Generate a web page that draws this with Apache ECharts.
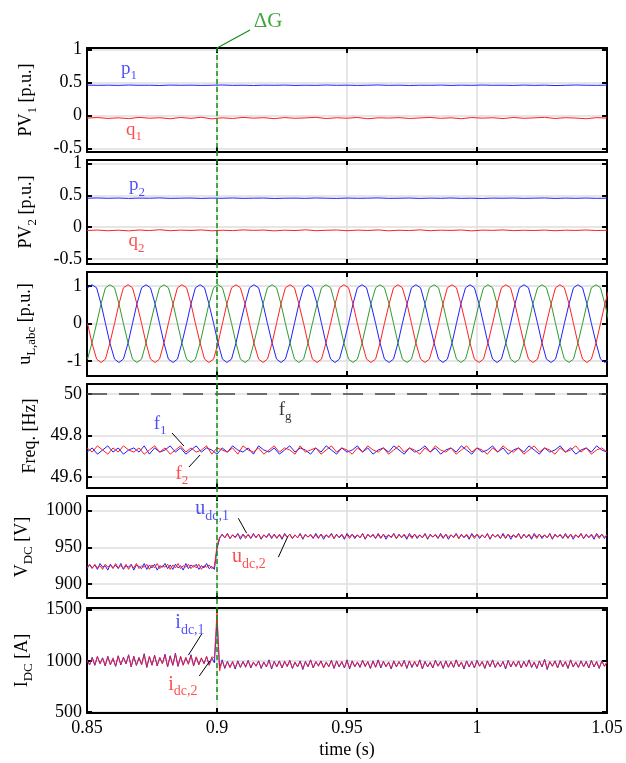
<!DOCTYPE html>
<html><head><meta charset="utf-8">
<script src="https://cdn.jsdelivr.net/npm/echarts@6/dist/echarts.min.js"></script>
<style>html,body{margin:0;padding:0;background:#fff}#c{width:626px;height:763px}</style>
</head><body><div id="c"></div>
<script>
// ---------------- DATA ----------------
// time bases (s)
const tPQ = [0.850,0.854,0.858,0.862,0.866,0.870,0.874,0.878,0.882,0.886,
0.890,0.894,0.898,0.902,0.906,0.910,0.914,0.918,0.922,0.926,
0.930,0.934,0.938,0.942,0.946,0.950,0.954,0.958,0.962,0.966,
0.970,0.974,0.978,0.982,0.986,0.990,0.994,0.998,1.002,1.006,
1.010,1.014,1.018,1.022,1.026,1.030,1.034,1.038,1.042,1.046,
1.050];
const tF = [0.850,0.852,0.854,0.856,0.858,0.860,0.862,0.864,0.866,0.868,
0.870,0.872,0.874,0.876,0.878,0.880,0.882,0.884,0.886,0.888,
0.890,0.892,0.894,0.896,0.898,0.900,0.902,0.904,0.906,0.908,
0.910,0.912,0.914,0.916,0.918,0.920,0.922,0.924,0.926,0.928,
0.930,0.932,0.934,0.936,0.938,0.940,0.942,0.944,0.946,0.948,
0.950,0.952,0.954,0.956,0.958,0.960,0.962,0.964,0.966,0.968,
0.970,0.972,0.974,0.976,0.978,0.980,0.982,0.984,0.986,0.988,
0.990,0.992,0.994,0.996,0.998,1.000,1.002,1.004,1.006,1.008,
1.010,1.012,1.014,1.016,1.018,1.020,1.022,1.024,1.026,1.028,
1.030,1.032,1.034,1.036,1.038,1.040,1.042,1.044,1.046,1.048,
1.050];
const tDC = [0.850,0.851,0.852,0.853,0.854,0.855,0.856,0.857,0.858,0.859,
0.860,0.861,0.862,0.863,0.864,0.865,0.866,0.867,0.868,0.869,
0.870,0.871,0.872,0.873,0.874,0.875,0.876,0.877,0.878,0.879,
0.880,0.881,0.882,0.883,0.884,0.885,0.886,0.887,0.888,0.889,
0.890,0.891,0.892,0.893,0.894,0.895,0.896,0.897,0.898,0.899,
0.900,0.901,0.902,0.903,0.904,0.905,0.906,0.907,0.908,0.909,
0.910,0.911,0.912,0.913,0.914,0.915,0.916,0.917,0.918,0.919,
0.920,0.921,0.922,0.923,0.924,0.925,0.926,0.927,0.928,0.929,
0.930,0.931,0.932,0.933,0.934,0.935,0.936,0.937,0.938,0.939,
0.940,0.941,0.942,0.943,0.944,0.945,0.946,0.947,0.948,0.949,
0.950,0.951,0.952,0.953,0.954,0.955,0.956,0.957,0.958,0.959,
0.960,0.961,0.962,0.963,0.964,0.965,0.966,0.967,0.968,0.969,
0.970,0.971,0.972,0.973,0.974,0.975,0.976,0.977,0.978,0.979,
0.980,0.981,0.982,0.983,0.984,0.985,0.986,0.987,0.988,0.989,
0.990,0.991,0.992,0.993,0.994,0.995,0.996,0.997,0.998,0.999,
1.000,1.001,1.002,1.003,1.004,1.005,1.006,1.007,1.008,1.009,
1.010,1.011,1.012,1.013,1.014,1.015,1.016,1.017,1.018,1.019,
1.020,1.021,1.022,1.023,1.024,1.025,1.026,1.027,1.028,1.029,
1.030,1.031,1.032,1.033,1.034,1.035,1.036,1.037,1.038,1.039,
1.040,1.041,1.042,1.043,1.044,1.045,1.046,1.047,1.048,1.049,
1.050];
const tU = [0.8502,0.8519,0.8537,0.8554,0.8571,0.8588,0.8606,0.8623,0.8640,0.8658,0.8675,0.8692,
0.8710,0.8727,0.8744,0.8762,0.8779,0.8796,0.8813,0.8831,0.8848,0.8865,0.8883,0.8900,
0.8917,0.8935,0.8952,0.8969,0.8987,0.9004,0.9021,0.9038,0.9056,0.9073,0.9090,0.9108,
0.9125,0.9142,0.9160,0.9177,0.9194,0.9212,0.9229,0.9246,0.9263,0.9281,0.9298,0.9315,
0.9333,0.9350,0.9367,0.9385,0.9402,0.9419,0.9437,0.9454,0.9471,0.9488,0.9506,0.9523,
0.9540,0.9558,0.9575,0.9592,0.9610,0.9627,0.9644,0.9662,0.9679,0.9696,0.9713,0.9731,
0.9748,0.9765,0.9783,0.9800,0.9817,0.9835,0.9852,0.9869,0.9886,0.9904,0.9921,0.9938,
0.9956,0.9973,0.9990,1.0008,1.0025,1.0042,1.0060,1.0077,1.0094,1.0111,1.0129,1.0146,
1.0163,1.0181,1.0198,1.0215,1.0233,1.0250,1.0267,1.0285,1.0302,1.0319,1.0336,1.0354,
1.0371,1.0388,1.0406,1.0423,1.0440,1.0458,1.0475,1.0492,1.0509];

// PV1 / PV2 powers [p.u.]
const p1 = [0.462,0.458,0.461,0.457,0.463,0.459,0.460,0.456,0.462,0.459,
0.461,0.457,0.460,0.463,0.458,0.460,0.456,0.461,0.459,0.462,
0.457,0.460,0.458,0.463,0.459,0.461,0.457,0.460,0.464,0.458,
0.461,0.456,0.460,0.459,0.462,0.457,0.461,0.458,0.463,0.459,
0.460,0.457,0.462,0.458,0.461,0.455,0.459,0.463,0.460,0.458,
0.461];
const q1 = [-0.040,-0.032,-0.045,-0.036,-0.048,-0.030,-0.042,-0.035,-0.050,-0.031,
-0.044,-0.028,-0.052,-0.036,-0.046,-0.030,-0.041,-0.034,-0.049,-0.032,
-0.043,-0.037,-0.029,-0.047,-0.035,-0.042,-0.031,-0.050,-0.036,-0.040,
-0.033,-0.046,-0.038,-0.030,-0.044,-0.036,-0.049,-0.032,-0.041,-0.035,
-0.047,-0.031,-0.043,-0.037,-0.029,-0.046,-0.034,-0.040,-0.050,-0.033,
-0.041];
const p2 = [0.455,0.459,0.454,0.458,0.452,0.457,0.455,0.460,0.453,0.456,
0.458,0.452,0.457,0.454,0.459,0.453,0.456,0.458,0.451,0.455,
0.457,0.453,0.459,0.455,0.452,0.458,0.454,0.456,0.460,0.453,
0.455,0.458,0.452,0.457,0.454,0.459,0.453,0.456,0.451,0.457,
0.455,0.458,0.453,0.456,0.459,0.452,0.457,0.454,0.458,0.453,
0.456];
const q2 = [-0.052,-0.045,-0.056,-0.047,-0.058,-0.044,-0.053,-0.040,-0.055,-0.046,
-0.051,-0.043,-0.057,-0.048,-0.054,-0.042,-0.050,-0.045,-0.058,-0.047,
-0.053,-0.041,-0.055,-0.049,-0.044,-0.056,-0.046,-0.052,-0.043,-0.057,
-0.048,-0.053,-0.042,-0.055,-0.047,-0.051,-0.044,-0.058,-0.046,-0.050,
-0.043,-0.054,-0.048,-0.052,-0.045,-0.056,-0.047,-0.051,-0.044,-0.053,
-0.049];

// load voltages u_L,abc [p.u.] (flattened-top waveforms)
const uA = [0.95,1.03,0.95,0.52,0,-0.52,-0.95,-1.04,-0.95,-0.52,0,0.52,
0.95,1.03,0.95,0.52,0,-0.52,-0.95,-1.04,-0.95,-0.52,0,0.52,
0.95,1.03,0.95,0.52,0,-0.52,-0.95,-1.04,-0.95,-0.52,0,0.52,
0.95,1.03,0.95,0.52,0,-0.52,-0.95,-1.04,-0.95,-0.52,0,0.52,
0.95,1.03,0.95,0.52,0,-0.52,-0.95,-1.04,-0.95,-0.52,0,0.52,
0.95,1.03,0.95,0.52,0,-0.52,-0.95,-1.04,-0.95,-0.52,0,0.52,
0.95,1.03,0.95,0.52,0,-0.52,-0.95,-1.04,-0.95,-0.52,0,0.52,
0.95,1.03,0.95,0.52,0,-0.52,-0.95,-1.04,-0.95,-0.52,0,0.52,
0.95,1.03,0.95,0.52,0,-0.52,-0.95,-1.04,-0.95,-0.52,0,0.52,
0.95,1.03,0.95,0.52,0,-0.52,-0.95,-1.04,-0.95];
const uB = [-0.95,-0.52,0,0.52,0.95,1.03,0.95,0.52,0,-0.52,-0.95,-1.04,
-0.95,-0.52,0,0.52,0.95,1.03,0.95,0.52,0,-0.52,-0.95,-1.04,
-0.95,-0.52,0,0.52,0.95,1.03,0.95,0.52,0,-0.52,-0.95,-1.04,
-0.95,-0.52,0,0.52,0.95,1.03,0.95,0.52,0,-0.52,-0.95,-1.04,
-0.95,-0.52,0,0.52,0.95,1.03,0.95,0.52,0,-0.52,-0.95,-1.04,
-0.95,-0.52,0,0.52,0.95,1.03,0.95,0.52,0,-0.52,-0.95,-1.04,
-0.95,-0.52,0,0.52,0.95,1.03,0.95,0.52,0,-0.52,-0.95,-1.04,
-0.95,-0.52,0,0.52,0.95,1.03,0.95,0.52,0,-0.52,-0.95,-1.04,
-0.95,-0.52,0,0.52,0.95,1.03,0.95,0.52,0,-0.52,-0.95,-1.04,
-0.95,-0.52,0,0.52,0.95,1.03,0.95,0.52,0];
const uC = [0,-0.52,-0.95,-1.04,-0.95,-0.52,0,0.52,0.95,1.03,0.95,0.52,
0,-0.52,-0.95,-1.04,-0.95,-0.52,0,0.52,0.95,1.03,0.95,0.52,
0,-0.52,-0.95,-1.04,-0.95,-0.52,0,0.52,0.95,1.03,0.95,0.52,
0,-0.52,-0.95,-1.04,-0.95,-0.52,0,0.52,0.95,1.03,0.95,0.52,
0,-0.52,-0.95,-1.04,-0.95,-0.52,0,0.52,0.95,1.03,0.95,0.52,
0,-0.52,-0.95,-1.04,-0.95,-0.52,0,0.52,0.95,1.03,0.95,0.52,
0,-0.52,-0.95,-1.04,-0.95,-0.52,0,0.52,0.95,1.03,0.95,0.52,
0,-0.52,-0.95,-1.04,-0.95,-0.52,0,0.52,0.95,1.03,0.95,0.52,
0,-0.52,-0.95,-1.04,-0.95,-0.52,0,0.52,0.95,1.03,0.95,0.52,
0,-0.52,-0.95,-1.04,-0.95,-0.52,0,0.52,0.95];

// frequencies [Hz]
const fgT = [0.85, 1.05];
const fgV = [50, 50];
const f1 = [49.72,49.74,49.71,49.73,49.75,49.72,49.74,49.71,49.73,49.74,
49.72,49.75,49.71,49.74,49.72,49.73,49.75,49.72,49.74,49.71,
49.73,49.75,49.72,49.74,49.73,49.71,49.74,49.72,49.75,49.73,
49.72,49.74,49.71,49.75,49.73,49.72,49.74,49.71,49.73,49.75,
49.72,49.74,49.73,49.71,49.74,49.72,49.75,49.73,49.71,49.74,
49.72,49.73,49.75,49.72,49.74,49.71,49.73,49.74,49.72,49.75,
49.73,49.71,49.74,49.72,49.73,49.75,49.72,49.74,49.71,49.73,
49.74,49.72,49.75,49.73,49.71,49.74,49.72,49.73,49.75,49.72,
49.74,49.71,49.73,49.74,49.72,49.75,49.73,49.71,49.74,49.72,
49.73,49.75,49.72,49.74,49.71,49.73,49.74,49.72,49.75,49.73,
49.72];
const f2 = [49.74,49.72,49.75,49.73,49.71,49.74,49.72,49.75,49.73,49.72,
49.74,49.71,49.73,49.75,49.72,49.74,49.71,49.73,49.75,49.72,
49.74,49.72,49.73,49.75,49.71,49.74,49.73,49.72,49.74,49.71,
49.75,49.73,49.72,49.74,49.71,49.73,49.75,49.72,49.74,49.73,
49.71,49.75,49.72,49.73,49.74,49.71,49.73,49.75,49.72,49.74,
49.73,49.71,49.74,49.72,49.75,49.73,49.72,49.74,49.71,49.73,
49.75,49.72,49.74,49.73,49.71,49.74,49.72,49.75,49.73,49.72,
49.74,49.71,49.73,49.75,49.72,49.74,49.73,49.71,49.74,49.72,
49.75,49.73,49.72,49.74,49.71,49.73,49.75,49.72,49.74,49.73,
49.71,49.74,49.72,49.73,49.75,49.72,49.74,49.71,49.73,49.74,
49.72];

// DC voltages [V]
const udc1 = [921,927,922,926,920,928,923,925,919,927,
922,926,921,928,920,925,923,927,919,926,
924,921,928,920,926,922,927,919,925,923,
928,921,926,920,927,922,925,919,928,921,
926,923,927,920,925,922,928,921,924,920,
948,
962,968,963,969,962,967,964,969,961,968,
964,967,962,969,963,968,961,967,964,969,
962,968,963,967,961,969,964,968,962,967,
963,969,961,968,964,967,962,969,963,968,
961,967,964,969,962,968,963,967,961,969,
964,968,962,967,963,969,961,968,964,967,
962,969,963,968,961,967,964,969,962,968,
963,967,961,969,964,968,962,967,963,969,
961,968,964,967,962,969,963,968,961,967,
964,969,962,968,963,967,961,969,964,968,
962,967,963,969,961,968,964,967,962,969,
963,968,961,967,964,969,962,968,963,967,
961,969,964,968,962,967,963,969,961,968,
964,967,962,969,963,968,961,967,964,969,
962,968,963,967,961,969,964,968,962,967];
const udc2 = [923,926,921,927,922,925,920,927,923,926,
921,928,922,925,921,927,920,926,922,928,
921,925,923,927,920,926,922,928,921,925,
923,927,920,926,922,928,921,925,923,927,
921,926,922,927,920,925,923,926,921,924,
952,
964,967,963,968,962,967,963,968,964,967,
962,968,963,967,964,968,962,967,963,968,
964,967,962,968,963,967,964,968,962,967,
963,968,962,967,964,968,963,967,962,968,
964,967,963,968,962,967,964,968,963,967,
962,968,964,967,963,968,962,967,964,968,
963,967,962,968,964,967,963,968,962,967,
964,968,963,967,962,968,964,967,963,968,
962,967,964,968,963,967,962,968,964,967,
963,968,962,967,964,968,963,967,962,968,
964,967,963,968,962,967,964,968,963,967,
962,968,964,967,963,968,962,967,964,968,
963,967,962,968,964,967,963,968,962,967,
964,968,963,967,962,968,964,967,963,968,
962,967,964,968,963,967,962,968,964,967];

// DC currents [A]
const idc1 = [1010,960,1035,955,1040,975,1030,950,1045,965,
1020,945,1050,960,1035,970,1060,940,1045,955,
1030,965,1070,935,1040,960,1055,950,1030,975,
1065,940,1050,955,1075,945,1040,960,1030,970,
1060,950,1035,965,1025,975,1040,960,1030,980,
1400,
930,1010,925,995,940,990,920,1000,935,995,
945,1005,930,985,950,1000,925,990,940,1010,
920,995,945,1000,930,990,950,1005,925,985,
940,1000,915,995,945,1010,930,990,955,1000,
935,985,945,1005,925,1000,940,990,930,1010,
920,1000,945,985,935,1005,950,990,925,1000,
940,1010,930,995,945,985,920,1000,940,990,
950,1005,925,1000,935,990,945,1010,920,995,
940,985,930,1005,950,995,925,1000,940,990,
935,1010,945,985,920,1000,940,995,930,1005,
950,990,925,1000,945,1010,935,985,940,995,
920,1005,940,990,950,1000,930,995,945,1010,
935,985,925,1000,940,1015,915,990,950,1000,
930,1005,945,990,925,1010,940,985,935,1000,
945,995,930,1005,940,990,925,1000,950,985];
const idc2 = [1000,965,1030,960,1045,970,1025,955,1040,960,
1030,950,1045,965,1030,975,1055,945,1040,960,
1035,960,1060,940,1045,955,1050,955,1035,970,
1055,945,1045,960,1065,950,1045,955,1035,965,
1050,955,1040,960,1030,970,1045,955,1040,1030,
1480,
900,1000,935,990,930,995,930,995,940,990,
935,1000,940,990,945,995,935,985,945,1000,
930,990,940,995,935,1000,940,1000,930,990,
945,995,925,990,940,1005,935,995,945,995,
930,990,940,1000,930,995,945,995,935,1000,
930,995,940,990,945,1000,940,995,930,995,
935,1005,940,990,940,990,925,995,945,995,
940,1000,930,995,945,995,940,1005,925,990,
945,990,935,1000,945,990,930,995,935,995,
940,1005,940,990,930,995,945,990,935,1000,
945,995,930,995,940,1005,940,990,945,990,
930,1000,945,995,940,995,935,990,940,1005,
940,990,930,995,945,1010,925,995,945,995,
935,1000,940,995,930,1005,945,990,940,995,
940,990,935,1000,945,995,930,995,945,990];

// in-plot text annotations (panel, time, value, main, subscript, colour key)
const notes = [
  {p:0, t:0.8662, v:0.695, m:'p', s:'1', c:'b'},
  {p:0, t:0.8681, v:-0.237, m:'q', s:'1', c:'r'},
  {p:1, t:0.8692, v:0.644, m:'p', s:'2', c:'b'},
  {p:1, t:0.8690, v:-0.234, m:'q', s:'2', c:'r'},
  {p:3, t:0.8781, v:49.851, m:'f', s:'1', c:'b'},
  {p:3, t:0.8865, v:49.610, m:'f', s:'2', c:'r'},
  {p:3, t:0.9262, v:49.918, m:'f', s:'g', c:'k'},
  {p:4, t:0.8981, v:1001, m:'u', s:'dc,1', c:'b'},
  {p:4, t:0.9123, v:935.7, m:'u', s:'dc,2', c:'r'},
  {p:5, t:0.8896, v:1361, m:'i', s:'dc,1', c:'b'},
  {p:5, t:0.8869, v:761, m:'i', s:'dc,2', c:'r'}
];
const leaders = [
  {p:3, a:[0.8827,49.812], b:[0.8873,49.749]},
  {p:3, a:[0.8892,49.648], b:[0.8935,49.706]},
  {p:4, a:[0.9082,989.7], b:[0.9114,969.3]},
  {p:4, a:[0.9236,936.7], b:[0.9272,964.7]},
  {p:5, a:[0.8941,1262], b:[0.8890,1056]},
  {p:5, a:[0.8932,852.5], b:[0.8973,1000]}
];
// event marker (ΔG at t = 0.9 s), on a full-height overlay axis 0..1
const evT = [0.9, 0.9];
const evV = [0.0185, 0.946];
const dgT = [0.9, 0.9127];
const dgV = [0.946, 0.9716];
const dgLabel = [0.9196, 0.983];

// ---------------- STYLE / LAYOUT ----------------
const FONT = 'Liberation Serif';
const COL = {b:'#1f1fff', r:'#ff1f1f', g:'#2e9b2e', k:'#000'};
const EVG = '#139013';
const GRIDC = '#dedede';
const panels = [
  {top:48,  height:104, min:-0.556, max:1.026, split:3, gap:48, name:'{m|PV}{s|1}{m| [p.u.]}'},
  {top:160, height:104, min:-0.578, max:1.055, split:3, gap:48, name:'{m|PV}{s|2}{m| [p.u.]}'},
  {top:272, height:104, min:-1.40,  max:1.37,  split:3, gap:49, name:'{m|u}{s|L,abc}{m| [p.u.]}'},
  {top:384, height:104, min:49.547, max:50.048, split:3, gap:42, name:'{m|Freq. [Hz]}'},
  {top:496, height:102, min:881,    max:1020,  split:3, gap:45, name:'{m|V}{s|DC}{m| [V]}'},
  {top:608, height:105, min:490,    max:1517,  split:2, gap:50, name:'{m|I}{s|DC}{m| [A]}'}
];
function rich(color, ms, ss) {
  return {
    m:{fontFamily:FONT, fontSize:ms, color:color, lineHeight:ms+4, verticalAlign:'top'},
    s:{fontFamily:FONT, fontSize:ss, color:color, lineHeight:ms+4, verticalAlign:'bottom'}
  };
}
const axLine = {show:true, onZero:false, lineStyle:{color:'#000', width:2}};
const axTick = {show:true, inside:true, length:5, lineStyle:{color:'#000', width:2}};
const grids = [], xAxes = [], yAxes = [], series = [];
panels.forEach((p, i) => {
  const last = i === panels.length - 1;
  grids.push({left:87, right:19, top:p.top, height:p.height, outerBoundsMode:'none', containLabel:false});
  const xb = {type:'value', gridIndex:i, min:0.85, max:1.05, interval:0.05, axisLine:axLine, axisTick:axTick};
  xAxes.push(Object.assign({}, xb, {position:'bottom',
    axisLabel:{show:last, fontFamily:FONT, fontSize:18, color:'#000', margin:6, formatter:v => String(v)},
    splitLine:{show:true, showMinLine:false, showMaxLine:false, lineStyle:{color:GRIDC, width:1.5}},
    name: last ? 'time (s)' : '', nameLocation:'middle', nameGap:28,
    nameTextStyle:{fontFamily:FONT, fontSize:18, color:'#000'}}));
  xAxes.push(Object.assign({}, xb, {position:'top', axisLabel:{show:false}, splitLine:{show:false}}));
  const yb = {type:'value', gridIndex:i, min:p.min, max:p.max, splitNumber:p.split, axisLine:axLine, axisTick:axTick};
  yAxes.push(Object.assign({}, yb, {position:'left',
    axisLabel:{show:true, fontFamily:FONT, fontSize:18, color:'#000', margin:5, showMinLabel:false, showMaxLabel:false,
      formatter:v => String(v)},
    splitLine:{show:true, showMinLine:false, showMaxLine:false, lineStyle:{color:GRIDC, width:1.5}},
    name:p.name, nameLocation:'middle', nameRotate:90, nameGap:p.gap,
    nameTextStyle:{fontFamily:FONT, fontSize:18, color:'#000', rich:rich('#000', 18, 13)}}));
  yAxes.push(Object.assign({}, yb, {position:'right', axisLabel:{show:false}, splitLine:{show:false}}));
});
// overlay grid for the event marker
grids.push({left:87, right:19, top:10, bottom:50, outerBoundsMode:'none', containLabel:false});
xAxes.push({type:'value', gridIndex:6, min:0.85, max:1.05, show:false});
yAxes.push({type:'value', gridIndex:6, min:0, max:1, show:false});

function line(i, xs, ys, color, extra) {
  return Object.assign({type:'line', xAxisIndex:2*i, yAxisIndex:2*i,
    data: xs.map((t, k) => [t, ys[k]]), symbol:'none', showSymbol:false,
    lineStyle:{color:color, width:1}, itemStyle:{color:color},
    animation:false, silent:true, z:3}, extra || {});
}
series.push(line(0, tPQ, p1, COL.b), line(0, tPQ, q1, COL.r));
series.push(line(1, tPQ, p2, COL.b), line(1, tPQ, q2, COL.r));
series.push(line(2, tU, uA, COL.b), line(2, tU, uB, COL.g), line(2, tU, uC, COL.r));
series.push(line(3, fgT, fgV, '#444', {lineStyle:{color:'#444', width:1.5, type:[20,12]}}));
series.push(line(3, tF, f1, COL.b), line(3, tF, f2, COL.r));
series.push(line(4, tDC, udc1, COL.b), line(4, tDC, udc2, COL.r));
series.push(line(5, tDC, idc1, COL.b), line(5, tDC, idc2, COL.r, {lineStyle:{color:COL.r, width:1, opacity:0.85}}));
leaders.forEach(L => {
  series.push(line(L.p, [L.a[0], L.b[0]], [L.a[1], L.b[1]], '#000', {z:5}));
});
notes.forEach(n => {
  const big = n.s.length > 1;
  series.push({type:'scatter', xAxisIndex:2*n.p, yAxisIndex:2*n.p, data:[[n.t, n.v]],
    symbolSize:1, itemStyle:{color:'rgba(0,0,0,0)'}, silent:true, animation:false, z:6,
    label:{show:true, position:'inside', offset:[0,1],
      formatter:'{m|' + n.m + '}{s|' + n.s + '}',
      rich: rich(COL[n.c], big ? 20 : 19, big ? 14 : 13)}});
});
// event marker
series.push({type:'line', xAxisIndex:12, yAxisIndex:12, data: evT.map((t,k)=>[t, evV[k]]),
  symbol:'none', clip:false, silent:true, animation:false, z:8,
  lineStyle:{color:EVG, width:1.5, type:[5,3]}});
series.push({type:'line', xAxisIndex:12, yAxisIndex:12, data: dgT.map((t,k)=>[t, dgV[k]]),
  symbol:'none', clip:false, silent:true, animation:false, z:8,
  lineStyle:{color:EVG, width:1.2}});
series.push({type:'scatter', xAxisIndex:12, yAxisIndex:12, data:[dgLabel], symbolSize:1,
  itemStyle:{color:'rgba(0,0,0,0)'}, silent:true, animation:false, z:8,
  label:{show:true, position:'inside', formatter:'ΔG', fontFamily:FONT, fontSize:21, color:EVG}});

const chart = echarts.init(document.getElementById('c'), null, {renderer:'canvas'});
chart.setOption({animation:false, backgroundColor:'#fff', grid:grids, xAxis:xAxes, yAxis:yAxes, series:series});
</script></body></html>
